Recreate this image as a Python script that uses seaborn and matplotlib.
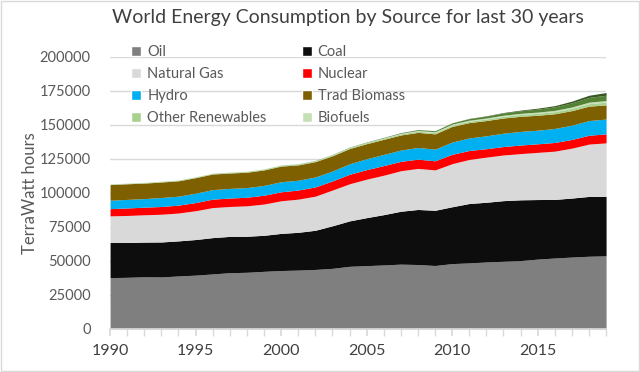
import numpy as np
import pandas as pd
import seaborn as sns
import matplotlib.pyplot as plt
from matplotlib.patches import Patch, Rectangle
from matplotlib.ticker import MultipleLocator

# Years and energy sources (TWh)
years = list(range(1990, 2020))

oil = [37700, 37900, 38300, 38200, 38900, 39500, 40400, 41300, 41600, 42300,
       42900, 43200, 43700, 44500, 46000, 46500, 47000, 47600, 47300, 46600,
       48000, 48500, 49200, 49700, 50200, 51300, 52100, 52800, 53400, 53700]
coal = [25800, 25600, 25500, 25700, 25800, 26200, 26700, 26700, 26500, 26500,
        27300, 27800, 28800, 31300, 33400, 35300, 37000, 38900, 40500, 40600,
        41800, 43700, 43900, 44600, 44700, 43800, 43100, 43400, 44000, 43700]
natural_gas = [19600, 19900, 20100, 20400, 20500, 21200, 22100, 22000, 22400, 23000,
               24000, 24400, 25100, 26300, 27300, 28300, 29000, 29800, 30200, 29700,
               31700, 32400, 33200, 33600, 34000, 34700, 35500, 36700, 38500, 39400]
nuclear = [5300, 5500, 5600, 5700, 5800, 6000, 6200, 6200, 6300, 6500,
           6600, 6700, 6800, 6700, 7000, 7000, 7100, 6900, 6800, 6700,
           6900, 6600, 6200, 6200, 6300, 6300, 6400, 6400, 6500, 6600]
hydro = [6200, 6300, 6300, 6600, 6600, 6900, 7000, 7100, 7100, 7200,
         7400, 7200, 7300, 7300, 7700, 8000, 8200, 8300, 8600, 8600,
         9000, 9200, 9500, 9800, 10000, 10000, 10300, 10500, 10800, 10900]
trad_biomass = [11500, 11500, 11400, 11400, 11300, 11400, 11500, 11300, 11300, 11400,
                11500, 11300, 11300, 11200, 11200, 11100, 11100, 11100, 11100, 11200,
                11500, 11300, 11200, 11200, 11100, 11000, 10800, 10700, 10600, 10400]
other_renewables = [350, 370, 390, 410, 430, 450, 470, 490, 510, 540,
                    560, 580, 610, 640, 680, 720, 760, 800, 850, 900,
                    980, 1050, 1130, 1220, 1320, 1420, 1560, 1700, 1850, 2000]
biofuels = [110, 105, 110, 115, 120, 125, 130, 130, 125, 125,
            120, 130, 150, 180, 210, 250, 330, 450, 610, 680,
            730, 750, 760, 820, 880, 900, 920, 980, 1080, 1200]
wind = [10, 10, 12, 15, 18, 20, 25, 30, 40, 55,
        80, 100, 130, 160, 210, 270, 340, 450, 580, 720,
        900, 1120, 1350, 1620, 1870, 2200, 2600, 3050, 3480, 3900]
solar = [1, 1, 1, 1, 1, 1, 2, 2, 2, 3,
         3, 4, 5, 6, 7, 10, 14, 20, 30, 50,
         80, 170, 280, 360, 500, 680, 900, 1250, 1600, 2000]

labels = ['Oil', 'Coal', 'Natural Gas', 'Nuclear', 'Hydro', 'Trad Biomass',
          'Other Renewables', 'Biofuels', 'Wind', 'Solar']
colors = ['#7f7f7f', '#0d0d0d', '#d9d9d9', '#ff0000', '#00b0f0', '#7f6000',
          '#a9d18e', '#c5e0b4', '#548235', '#385723']

df = pd.DataFrame({'Year': years, 'Oil': oil, 'Coal': coal, 'Natural Gas': natural_gas,
                   'Nuclear': nuclear, 'Hydro': hydro, 'Trad Biomass': trad_biomass,
                   'Other Renewables': other_renewables, 'Biofuels': biofuels,
                   'Wind': wind, 'Solar': solar})

sns.set_theme(style="white")
plt.rcParams['font.family'] = ['Lato', 'DejaVu Sans']

fig = plt.figure(figsize=(6.4, 3.72), dpi=100)
ax = fig.add_axes([0.172, 0.116, 0.775, 0.731])

ax.stackplot(df['Year'], *[df[c] for c in labels], colors=colors, linewidth=0)

# Axes styling
ax.set_xlim(1990, 2019)
ax.set_ylim(0, 200000)
ax.yaxis.set_major_locator(MultipleLocator(25000))
ax.xaxis.set_major_locator(MultipleLocator(5))
ax.xaxis.set_minor_locator(MultipleLocator(1))
ax.grid(axis='y', color='#d9d9d9', linewidth=1)
ax.set_axisbelow(True)
for s in ['top', 'right', 'left']:
    ax.spines[s].set_visible(False)
ax.spines['bottom'].set_color('#d9d9d9')
ax.tick_params(axis='x', which='both', direction='out', length=5, color='#d9d9d9',
               bottom=True, labelsize=11.5, labelcolor='#404040', pad=6)
ax.tick_params(axis='y', length=0, labelsize=10.5, labelcolor='#595959', pad=14)

ax.set_ylabel('TerraWatt hours', fontsize=12, color='#595959', labelpad=1)
fig.suptitle('World Energy Consumption by Source for last 30 years',
             fontsize=14, color='#404040', x=0.544, y=0.975)

# Legend (two columns, filled column-wise)
order = ['Oil', 'Natural Gas', 'Hydro', 'Other Renewables',
         'Coal', 'Nuclear', 'Trad Biomass', 'Biofuels']
handles = [Patch(facecolor=colors[labels.index(n)], label=n) for n in order]
ax.legend(handles=handles, ncol=2, loc='upper left', bbox_to_anchor=(0.016, 1.093),
          frameon=False, fontsize=10.5, labelcolor='#595959',
          handlelength=0.7, handleheight=0.7, handletextpad=0.4,
          columnspacing=2.4, labelspacing=0.55)

# Light border around the whole chart
fig.patches.append(Rectangle((0.002, 0.002), 0.996, 0.996, transform=fig.transFigure,
                             fill=False, edgecolor='#d9d9d9', linewidth=1))

plt.savefig('out.png', dpi=100)
